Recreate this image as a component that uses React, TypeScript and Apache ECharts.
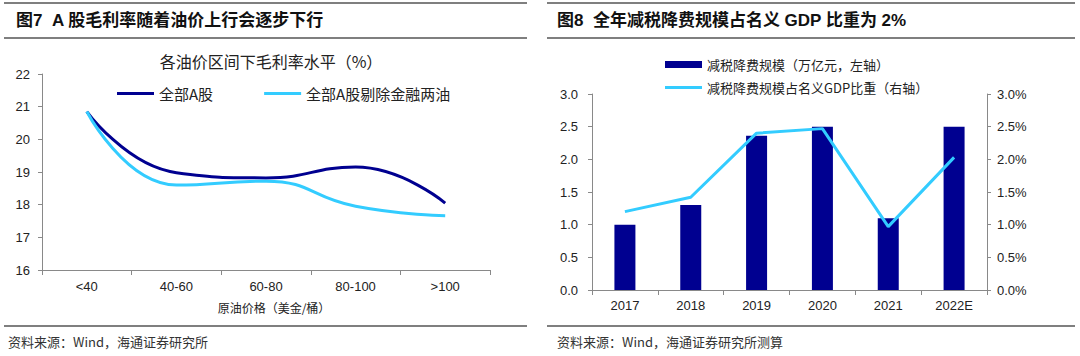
import React, { useEffect, useRef } from "react";
import * as echarts from "echarts";

const leftCats = ["<40", "40-60", "60-80", "80-100", ">100"];
const allA = [20.85, 18.98, 18.82, 19.15, 18.05];
const exFinOil = [20.85, 18.6, 18.72, 17.95, 17.66];
const leftTicks = { min: 16, max: 22, interval: 1 };

const rightCats = ["2017", "2018", "2019", "2020", "2021", "2022E"];
const cutScale = [1.0, 1.3, 2.36, 2.5, 1.1, 2.5];
const gdpShare = [1.2, 1.42, 2.4, 2.47, 0.97, 2.03];
const rightTicks = { min: 0, max: 3, interval: 0.5 };

const NAVY = "#000090";
const SKY = "#33CCFF";
const AXIS = "#898989";
const TXT = "#222222";
const LAT = "'Liberation Sans', Arial, 'Noto Sans CJK SC', sans-serif";
const CJK = "'Noto Sans CJK SC', 'Liberation Sans', sans-serif";

export default function App() {
  const ref = useRef<HTMLDivElement>(null);
  useEffect(() => {
    document.body.style.margin = "0";
    const chart = echarts.init(ref.current!, undefined, { renderer: "svg" });
    const sepLine = (x1: number, x2: number, y: number) => ({
      type: "line",
      shape: { x1, y1: y, x2, y2: y },
      style: { stroke: "#555", lineWidth: 1.3 },
      silent: true,
    });
    const axisCommon = {
      axisLine: { show: true, lineStyle: { color: AXIS, width: 1 } },
      axisTick: { show: true, length: 4, lineStyle: { color: AXIS } },
      splitLine: { show: false },
    };
    chart.setOption({
      animation: false,
      backgroundColor: "#fff",
      textStyle: { fontFamily: LAT },
      graphic: [
        sepLine(4, 527, 3),
        sepLine(4, 527, 38),
        sepLine(4, 527, 326),
        sepLine(547, 1075, 3),
        sepLine(547, 1075, 38),
        sepLine(547, 1075, 326),
        {
          type: "text",
          x: 16,
          y: 20,
          style: {
            text: "图7  A 股毛利率随着油价上行会逐步下行",
            font: `bold 17px ${LAT}`,
            fill: "#111",
            textVerticalAlign: "middle",
          },
        },
        {
          type: "text",
          x: 557,
          y: 20,
          style: {
            text: "图8  全年减税降费规模占名义 GDP 比重为 2%",
            font: `bold 17px ${LAT}`,
            fill: "#111",
            textVerticalAlign: "middle",
          },
        },
        {
          type: "text",
          x: 271,
          y: 61,
          style: {
            text: "各油价区间下毛利率水平（%）",
            font: `16px ${CJK}`,
            fill: TXT,
            textAlign: "center",
            textVerticalAlign: "middle",
          },
        },
        {
          type: "text",
          x: 8,
          y: 341,
          style: {
            text: "资料来源：Wind，海通证券研究所",
            font: `13px ${CJK}`,
            fill: "#333",
            textVerticalAlign: "middle",
          },
        },
        {
          type: "text",
          x: 557,
          y: 341,
          style: {
            text: "资料来源：Wind，海通证券研究所测算",
            font: `13px ${CJK}`,
            fill: "#333",
            textVerticalAlign: "middle",
          },
        },
      ],
      legend: [
        {
          left: 112,
          top: 81,
          icon: "rect",
          itemWidth: 37,
          itemHeight: 3,
          itemGap: 51,
          textStyle: { fontFamily: CJK, fontSize: 15, color: TXT },
          data: ["全部A股", "全部A股剔除金融两油"],
        },
        {
          left: 660,
          top: 53,
          icon: "rect",
          itemWidth: 37,
          itemHeight: 7,
          textStyle: { fontFamily: CJK, fontSize: 13, color: TXT },
          data: ["减税降费规模（万亿元，左轴）"],
        },
        {
          left: 660,
          top: 76,
          icon: "rect",
          itemWidth: 37,
          itemHeight: 3,
          textStyle: { fontFamily: CJK, fontSize: 13, color: TXT },
          data: ["减税降费规模占名义GDP比重（右轴）"],
        },
      ],
      grid: [
        { left: 42, top: 74, width: 448, height: 196 },
        { left: 592, top: 94, width: 395, height: 196 },
      ],
      xAxis: [
        {
          type: "category",
          gridIndex: 0,
          data: leftCats,
          boundaryGap: true,
          ...axisCommon,
          axisTick: { show: true, length: 5, lineStyle: { color: AXIS } },
          axisLabel: { color: TXT, fontSize: 13, margin: 10, fontFamily: LAT },
          name: "原油价格（美金/桶）",
          nameLocation: "middle",
          nameGap: 31,
          nameTextStyle: { fontFamily: CJK, fontSize: 12, color: TXT, padding: [0, 0, 0, 16] },
        },
        {
          type: "category",
          gridIndex: 1,
          data: rightCats,
          boundaryGap: true,
          ...axisCommon,
          axisTick: { show: true, length: 5, lineStyle: { color: AXIS } },
          axisLabel: { color: TXT, fontSize: 13, margin: 9, fontFamily: LAT },
        },
      ],
      yAxis: [
        {
          type: "value",
          gridIndex: 0,
          ...leftTicks,
          ...axisCommon,
          axisLabel: { color: TXT, fontSize: 13, margin: 12, fontFamily: LAT },
        },
        {
          type: "value",
          gridIndex: 1,
          position: "left",
          ...rightTicks,
          ...axisCommon,
          axisLabel: {
            color: TXT,
            fontSize: 13,
            margin: 14,
            fontFamily: LAT,
            formatter: (v: number) => v.toFixed(1),
          },
        },
        {
          type: "value",
          gridIndex: 1,
          position: "right",
          ...rightTicks,
          ...axisCommon,
          axisLabel: {
            color: TXT,
            fontSize: 13,
            margin: 10,
            fontFamily: LAT,
            formatter: (v: number) => v.toFixed(1) + "%",
          },
        },
      ],
      series: [
        {
          name: "全部A股",
          type: "line",
          xAxisIndex: 0,
          yAxisIndex: 0,
          data: allA,
          smooth: 0.5,
          symbol: "none",
          lineStyle: { color: NAVY, width: 3 },
          itemStyle: { color: NAVY },
        },
        {
          name: "全部A股剔除金融两油",
          type: "line",
          xAxisIndex: 0,
          yAxisIndex: 0,
          data: exFinOil,
          smooth: 0.5,
          symbol: "none",
          lineStyle: { color: SKY, width: 3 },
          itemStyle: { color: SKY },
        },
        {
          name: "减税降费规模（万亿元，左轴）",
          type: "bar",
          xAxisIndex: 1,
          yAxisIndex: 1,
          data: cutScale,
          barWidth: 21,
          itemStyle: { color: NAVY },
        },
        {
          name: "减税降费规模占名义GDP比重（右轴）",
          type: "line",
          xAxisIndex: 1,
          yAxisIndex: 2,
          data: gdpShare,
          symbol: "none",
          lineStyle: { color: SKY, width: 3 },
          itemStyle: { color: SKY },
        },
      ],
    });
    return () => chart.dispose();
  }, []);
  return (
    <div
      ref={ref}
      style={{ position: "absolute", left: 0, top: 0, width: 1080, height: 356 }}
    />
  );
}
